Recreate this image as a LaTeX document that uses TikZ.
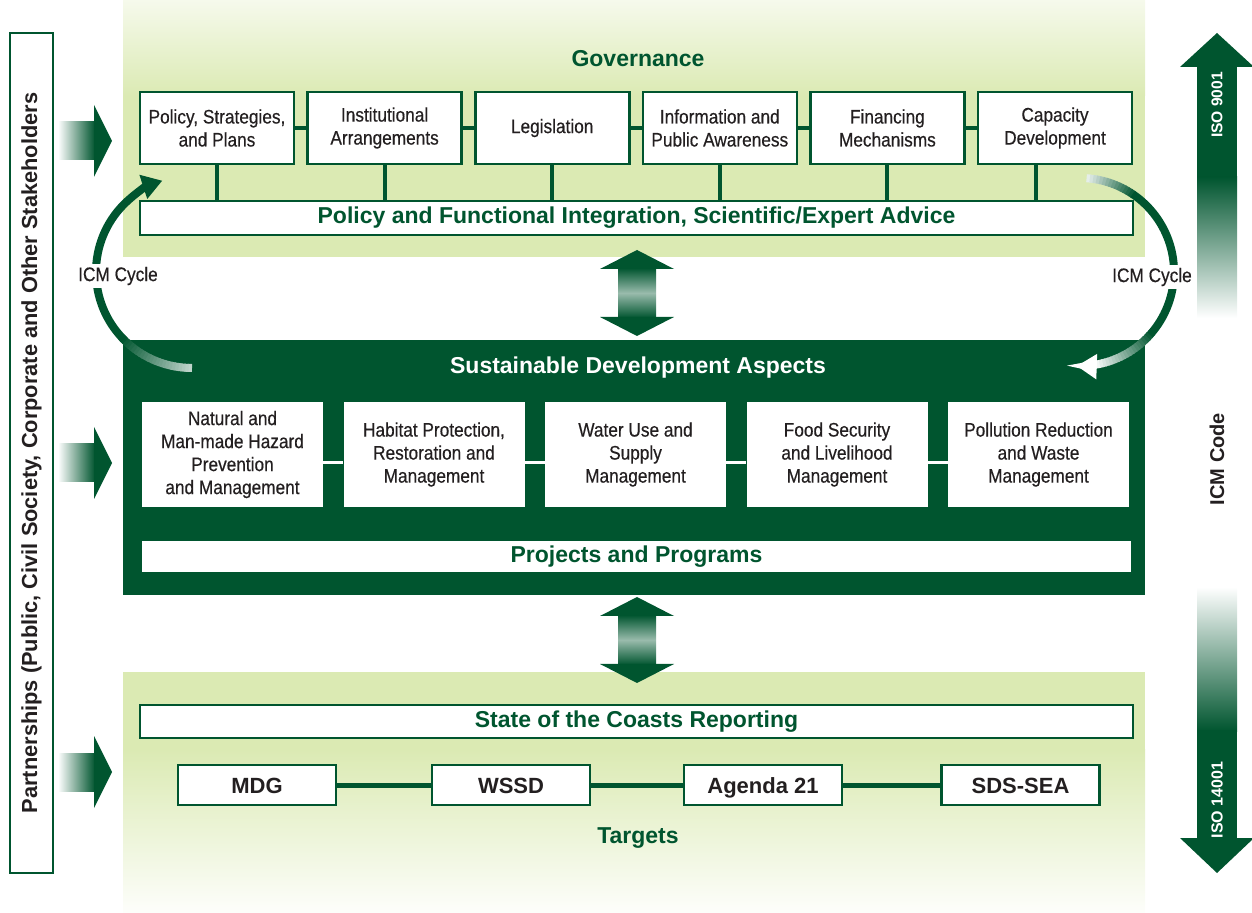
\documentclass[tikz,border=0pt]{standalone}
\usepackage{fontspec}
\setmainfont{Liberation Sans}
\newfontfamily\boxfont{Liberation Sans}[FakeStretch=0.88,FakeBold=0.4]
\usetikzlibrary{arrows.meta}
\definecolor{icmgreen}{HTML}{00552F}
\definecolor{panelgreen}{HTML}{DBEAB3}
\definecolor{boxtext}{HTML}{231F20}

\begin{document}
\begin{tikzpicture}[x=0.5pt,y=-0.5pt,
    govbox/.style={draw=icmgreen, line width=1.3pt, fill=white, minimum width=77pt, minimum height=36pt,
      inner sep=1pt, align=center, text=boxtext, font=\boxfont\fontsize{9.8}{11.5}\selectfont},
    aspectbox/.style={fill=white, minimum width=90.5pt, minimum height=52.5pt,
      inner sep=1pt, align=center, text=boxtext, font=\boxfont\fontsize{9.8}{11.5}\selectfont},
    widebar/.style={draw=icmgreen, line width=1.3pt, fill=white, minimum width=496.5pt, minimum height=17pt,
      inner sep=0pt, text=icmgreen, font=\bfseries\fontsize{11.5}{13}\selectfont},
    targetbox/.style={draw=icmgreen, line width=1.3pt, fill=white, minimum width=79pt, minimum height=20pt,
      inner sep=0pt, text height=8pt, text depth=0pt, text=boxtext, font=\bfseries\fontsize{11}{13}\selectfont},
    heading/.style={text=icmgreen, font=\bfseries\fontsize{11.5}{13}\selectfont},
    link/.style={icmgreen, line width=2pt},
    cyclelabel/.style={fill=white, inner sep=1.5pt, text=boxtext, font=\boxfont\fontsize{9.8}{11.5}\selectfont},
    sidelabel/.style={rotate=90, font=\bfseries\fontsize{10}{12}\selectfont}
  ]
  \useasboundingbox (0,0) rectangle (1252,913);

  % panels
  \fill[panelgreen] (123,95) rectangle (1145,257);
  \shade[top color=panelgreen!25!white, bottom color=panelgreen] (123,0) rectangle (1145,96);
  \fill[panelgreen] (123,672) rectangle (1145,750);
  \shade[top color=panelgreen, bottom color=panelgreen!5!white] (123,749) rectangle (1145,913);
  \fill[icmgreen] (123,340) rectangle (1145,595);

  % double arrows between the panels
  \foreach \ya in {250,597}{
    \shade[top color=icmgreen, bottom color=icmgreen, middle color=icmgreen!40!white] (618,\ya+18) rectangle (656,\ya+68);
    \fill[icmgreen] (600,\ya+19) -- (637,\ya) -- (674,\ya+19) -- cycle;
    \fill[icmgreen] (600,\ya+67) -- (637,\ya+86) -- (674,\ya+67) -- cycle;
  }

  % arrows from the partnerships box
  \foreach \yc in {141,463,772}{
    \shade[left color=white, right color=icmgreen] (58,\yc-19) rectangle (95,\yc+19);
    \fill[icmgreen] (94,\yc-36) -- (112,\yc) -- (94,\yc+36) -- cycle;
  }

  % ISO arrows
  \fill[icmgreen] (1180,67) -- (1217,33) -- (1254,67) -- cycle;
  \fill[icmgreen] (1197,66) rectangle (1237,178);
  \shade[top color=icmgreen, bottom color=white] (1197,177) rectangle (1237,318);
  \shade[top color=white, bottom color=icmgreen] (1197,587) rectangle (1237,731);
  \fill[icmgreen] (1197,730) rectangle (1237,839);
  \fill[icmgreen] (1180,838) -- (1217,873) -- (1254,838) -- cycle;

  \node[sidelabel, text=white, font=\bfseries\fontsize{7.8}{9}\selectfont] (iso9) at (1217,105) {ISO 9001};
  \node[sidelabel, text=white, font=\bfseries\fontsize{8}{9}\selectfont] (iso14) at (1217,800) {ISO 14001};
  \node[sidelabel, text=boxtext] (code) at (1217,459) {ICM Code};

  \node[draw=icmgreen, line width=1.3pt, rotate=90, minimum width=420pt, minimum height=21.5pt, inner sep=0pt,
    text=boxtext, font=\bfseries\fontsize{10.9}{12}\selectfont] (partners) at (31.5,453)
    {Partnerships (Public, Civil Society, Corporate and Other Stakeholders};

  % governance
  \node[heading] (gov) at (638,59) {Governance};
  \node[govbox] (g1) at (217,128) {Policy, Strategies,\\and Plans};
  \node[govbox] (g2) at (384.6,128) {Institutional\\Arrangements};
  \node[govbox] (g3) at (552.2,128) {Legislation};
  \node[govbox] (g4) at (719.8,128) {Information and\\Public Awareness};
  \node[govbox] (g5) at (887.4,128) {Financing\\Mechanisms};
  \node[govbox] (g6) at (1055,128) {Capacity\\Development};
  \node[widebar] (advice) at (636.5,218) {Policy and Functional Integration, Scientific/Expert Advice};

  \foreach \i/\j in {g1/g2,g2/g3,g3/g4,g4/g5,g5/g6}
    \draw[link] (\i) -- (\j);
  \foreach \i in {g1,g2,g3,g4,g5}
    \draw[link] (\i.south) -- (\i.south |- advice.north);
  \draw[link] ([xshift=-9.5pt]g6.south) -- ([xshift=-9.5pt]g6.south |- advice.north);

  % sustainable development aspects
  \node[text=white, font=\bfseries\fontsize{11.5}{13}\selectfont] (sda) at (638,368) {Sustainable Development Aspects};
  \node[aspectbox] (a1) at (232.5,454.5) {Natural and\\Man-made Hazard\\Prevention\\and Management};
  \node[aspectbox] (a2) at (434,454.5) {Habitat Protection,\\Restoration and\\Management};
  \node[aspectbox] (a3) at (635.5,454.5) {Water Use and\\Supply\\Management};
  \node[aspectbox] (a4) at (837,454.5) {Food Security\\and Livelihood\\Management};
  \node[aspectbox] (a5) at (1038.5,454.5) {Pollution Reduction\\and Waste\\Management};
  \node[widebar, draw=none, minimum width=494.5pt, minimum height=15.5pt] (projects) at (636.5,556.5) {Projects and Programs};

  \foreach \i/\j in {a1/a2,a2/a3,a3/a4,a4/a5}
    \draw[white, line width=1.5pt] ([yshift=-4pt]\i.east) -- ([yshift=-4pt]\j.west);

  % targets
  \node[widebar, minimum height=16.5pt] (soc) at (636.5,721.5) {State of the Coasts Reporting};
  \node[targetbox] (t1) at (257,785) {MDG};
  \node[targetbox] (t2) at (511,785) {WSSD};
  \node[targetbox] (t3) at (763,785) {Agenda 21};
  \node[targetbox] (t4) at (1020.5,785) {SDS-SEA};
  \node[heading] (targets) at (638,838) {Targets};

  \foreach \i/\j in {t1/t2,t2/t3,t3/t4}
    \draw[link, line width=2.5pt] (\i) -- (\j);

  % ICM cycle, left
  \coordinate (lcyc) at (192,272);
  \foreach \a in {90,92,...,134}{
    \pgfmathsetmacro\p{25+75*(\a-90)/45}
    \pgfmathsetmacro\b{\a+2.6}
    \draw[icmgreen!\p!white, line width=4pt] (lcyc) ++(\a:96) arc[start angle=\a, end angle=\b, radius=96];
  }
  \draw[icmgreen, line width=4pt, -{Triangle[length=10pt,width=12pt]}]
    (lcyc) ++(135:96) arc[start angle=135, end angle=252, radius=96];

  % ICM cycle, right
  \coordinate (rcyc) at (1080,272);
  \foreach \a in {-86,-84,...,-58}{
    \pgfmathsetmacro\p{10+90*(\a+86)/30}
    \pgfmathsetmacro\b{\a+2.6}
    \draw[icmgreen!\p!white, line width=4pt] (rcyc) ++(\a:94) arc[start angle=\a, end angle=\b, radius=94];
  }
  \draw[icmgreen, line width=4pt] (rcyc) ++(-56:94) arc[start angle=-56, end angle=40.5, radius=94];
  \foreach \a in {40,42,...,80}{
    \pgfmathsetmacro\p{100-100*(\a-40)/40}
    \pgfmathsetmacro\b{\a+2.6}
    \draw[icmgreen!\p!white, line width=4pt] (rcyc) ++(\a:94) arc[start angle=\a, end angle=\b, radius=94];
  }
  \draw[white, line width=4pt, -{Triangle[length=10pt,width=12pt]}]
    (rcyc) ++(82:94) arc[start angle=82, end angle=92, radius=94];

  \node[cyclelabel] (lcyclabel) at (118,276) {ICM Cycle};
  \node[cyclelabel] (rcyclabel) at (1152,277) {ICM Cycle};
\end{tikzpicture}
\end{document}
